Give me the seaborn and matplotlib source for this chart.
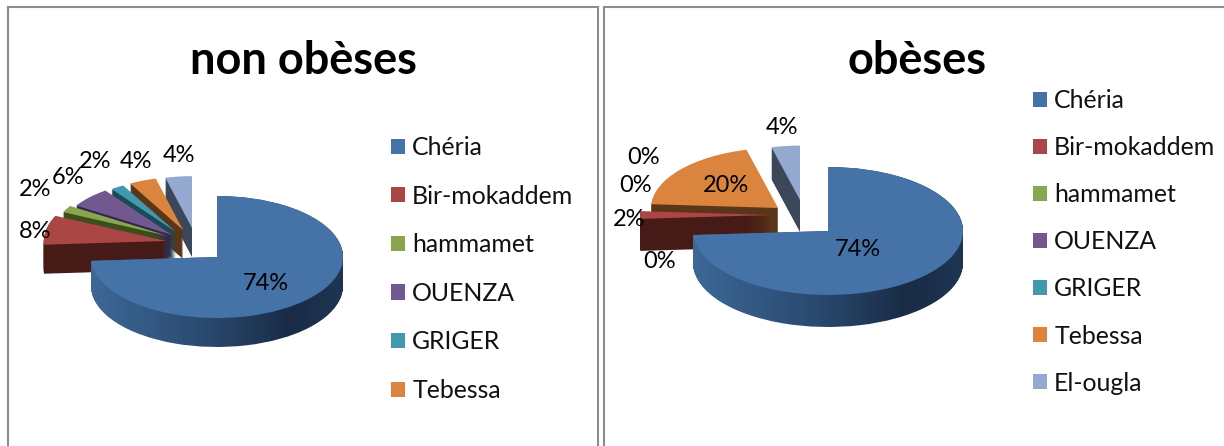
import matplotlib
matplotlib.use("Agg")
import matplotlib.pyplot as plt
import numpy as np
import seaborn as sns
from matplotlib.colors import LinearSegmentedColormap
from matplotlib.path import Path

W, H = 1224, 446

sites = ["Chéria", "Bir-mokaddem", "hammamet", "OUENZA", "GRIGER", "Tebessa", "El-ougla"]
non_obeses = [74, 8, 2, 6, 2, 4, 4]
obeses = [74, 2, 0, 0, 0, 20, 4]

top_colors = ["#4572A7", "#AA4643", "#89A54E", "#71588F", "#4198AF", "#DB843D", "#93A9CF"]
side_colors = ["#2A4A70", "#451A17", "#3A4F1C", "#35264A", "#1B4A56", "#5A3518", "#3D475C"]

sns.set_theme(style="white")
plt.rcParams["font.family"] = ["Lato", "DejaVu Sans"]

# panel layout, all in pixels
left_panel = dict(
    title="non obèses", title_xy=(303, 61), rect=(8, 7, 598, 460),
    center=(217, 257), a=126, b=61, depth=29,
    apex=[(217, 257), (166, 241), (168, 236), (172, 235), (176, 232), (183, 230), (192, 228)],
    scale=[1, .97, .92, .9, .87, .87, .85],
    label_xy=[(266, 283), (35, 232), (35, 190), (68, 178), (95, 161), (136, 161), (179, 155)],
    n_legend=6, legend_xy=(391, 136), legend_gap=1.03,
)
right_panel = dict(
    title="obèses", title_xy=(917, 61), rect=(604, 7, 1240, 460),
    center=(828, 231), a=135, b=64, depth=32,
    apex=[(828, 231), (771, 215), (771, 215), (771, 215), (771, 215), (778, 208), (800, 200)],
    scale=[1, .97, .9, .9, .9, .94, .85],
    label_xy=[(858, 250), (629, 219), (660, 261), (636, 186), (644, 157), (726, 185), (782, 127)],
    n_legend=7, legend_xy=(1033, 89), legend_gap=.97,
)

side_cmap = LinearSegmentedColormap.from_list(
    "side", [(0, "#3D6897"), (.45, "#2A4A70"), (.8, "#192B45"), (1, "#1F3653")])


def draw_panel(fig, values, p):
    L, T, R, B = p["rect"]
    ax = fig.add_axes([L / W, 1 - B / H, (R - L) / W, (B - T) / H])
    cx, cy = p["center"]
    a, b = p["a"], p["b"]
    to_x = lambda px: (px - cx) / a
    to_y = lambda py: (cy - py) / b

    clip_parts = []
    top_wedges = None
    for k in range(p["depth"], -1, -1):
        wedges, _ = ax.pie(values, colors=top_colors if k == 0 else side_colors,
                           startangle=90, counterclock=False,
                           wedgeprops=dict(linewidth=0))
        for i, w in enumerate(wedges):
            ax_, ay_ = p["apex"][i]
            w.set_center((to_x(ax_), to_y(ay_ + k)))
            w.set_radius(p["scale"][i])
            w.set_zorder(10 * (len(values) - i) + (1 if k == 0 else 0))
            if i == 0:
                clip_parts.append(w.get_path().transformed(w.get_patch_transform()))
                if k > 0:
                    w.set_visible(False)
        if k == 0:
            top_wedges = wedges

    # gradient on the outer wall of the big slice
    grad = np.linspace(0, 1, 256).reshape(1, -1)
    im = ax.imshow(grad, cmap=side_cmap, aspect="auto",
                   extent=(to_x(cx - a), to_x(cx + a), to_y(cy + 2 * b), to_y(cy - b)),
                   zorder=top_wedges[0].get_zorder() - 1)
    im.set_clip_path(Path.make_compound_path(*clip_parts), ax.transData)

    ax.set_aspect("auto")
    ax.set_xlim(to_x(L), to_x(R))
    ax.set_ylim(to_y(B), to_y(T))
    ax.set_frame_on(True)
    for name, spine in ax.spines.items():
        spine.set_visible(name != "bottom")
        spine.set_color("#8C8C8C")
        spine.set_linewidth(1.5)

    for v, (x, y) in zip(values, p["label_xy"]):
        fig.text(x / W, 1 - y / H, f"{v}%", fontsize=17, color="black",
                 ha="center", va="center", zorder=50)
    fig.text(p["title_xy"][0] / W, 1 - p["title_xy"][1] / H, p["title"], fontsize=32.5,
             fontweight="bold", color="black", ha="center", va="center", zorder=50)

    n = p["n_legend"]
    fig.legend(top_wedges[:n], sites[:n], loc="upper left", frameon=False,
               bbox_to_anchor=(p["legend_xy"][0] / W, 1 - p["legend_xy"][1] / H),
               borderpad=0, borderaxespad=0, fontsize=17.9, handlelength=.56, handleheight=.56,
               handletextpad=.29, labelspacing=p["legend_gap"], labelcolor="#111111")


fig = plt.figure(figsize=(W / 100, H / 100), dpi=100, facecolor="white")
draw_panel(fig, non_obeses, left_panel)
draw_panel(fig, obeses, right_panel)
fig.savefig("out.png", dpi=100)
